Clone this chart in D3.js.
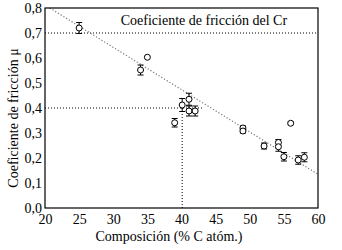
<!DOCTYPE html>
<html>
<head>
<meta charset="utf-8">
<script src="https://cdn.jsdelivr.net/npm/d3@7"></script>
<style>
  body { margin: 0; background: #fff; }
</style>
</head>
<body>
<div id="chart"></div>
<script>
// Data
const composition = [25, 34, 35, 39, 40.1, 41.1, 41.1, 42, 49, 49, 52.1, 54.2, 54.2, 55, 56, 57.1, 58];
const mu = [0.72, 0.552, 0.603, 0.341, 0.412, 0.435, 0.388, 0.388, 0.32, 0.308, 0.248, 0.262, 0.245, 0.205, 0.339, 0.192, 0.203];
const muErr = [0.022, 0.02, 0, 0.017, 0.026, 0.024, 0.02, 0.02, 0.008, 0.008, 0.012, 0.012, 0.018, 0.017, 0.005, 0.017, 0.018];

const trendX = [20.7, 60];
const trendY = [0.8, 0.135];

const crMu = 0.7;
const targetMu = 0.4;
const targetComp = 40.1;

const xTicks = [20, 25, 30, 35, 40, 45, 50, 55, 60];
const yTicks = [0, 0.1, 0.2, 0.3, 0.4, 0.5, 0.6, 0.7, 0.8];

const serif = "'Liberation Serif', 'Times New Roman', 'DejaVu Serif', serif";

const config = {
  width: 342, height: 250,
  margin: { top: 8, right: 24, bottom: 42, left: 45 }
};

const width = config.width - config.margin.left - config.margin.right;
const height = config.height - config.margin.top - config.margin.bottom;

const svg = d3.select('#chart').append('svg')
  .attr('width', config.width)
  .attr('height', config.height)
  .style('font-family', serif);

const chart = svg.append('g')
  .attr('transform', `translate(${config.margin.left},${config.margin.top})`);

const xScale = d3.scaleLinear().domain([20, 60]).range([0, width]);
const yScale = d3.scaleLinear().domain([0, 0.8]).range([height, 0]);

const fmt = d3.format('.1f');

// Axes (no tick marks, only labels)
const xAxis = d3.axisBottom(xScale).tickValues(xTicks).tickSize(0).tickPadding(6);
const yAxis = d3.axisLeft(yScale).tickValues(yTicks).tickSize(0).tickPadding(3)
  .tickFormat(d => fmt(d).replace('.', ','));

const xAxisG = chart.append('g')
  .attr('transform', `translate(0,${height})`)
  .call(xAxis);
const yAxisG = chart.append('g').call(yAxis);

[xAxisG, yAxisG].forEach(g => {
  g.attr('font-family', null).attr('font-size', null);
  g.select('.domain').remove();
  g.selectAll('text')
    .style('font-family', serif)
    .attr('font-size', 14)
    .attr('fill', '#000');
});

// Reference lines
chart.append('line')
  .attr('x1', 0).attr('x2', width)
  .attr('y1', yScale(crMu)).attr('y2', yScale(crMu))
  .attr('stroke', '#000').attr('stroke-dasharray', '1,2');

chart.append('line')
  .attr('x1', 0).attr('x2', xScale(43))
  .attr('y1', yScale(targetMu)).attr('y2', yScale(targetMu))
  .attr('stroke', '#000').attr('stroke-dasharray', '1,2');

chart.append('line')
  .attr('x1', xScale(targetComp)).attr('x2', xScale(targetComp))
  .attr('y1', yScale(targetMu)).attr('y2', yScale(0))
  .attr('stroke', '#000').attr('stroke-dasharray', '1,2');

// Trend line
chart.append('line')
  .attr('x1', xScale(trendX[0])).attr('y1', yScale(trendY[0]))
  .attr('x2', xScale(trendX[1])).attr('y2', yScale(trendY[1]))
  .attr('stroke', '#777').attr('stroke-width', 1.2).attr('stroke-dasharray', '1.2,2');

chart.append('text')
  .attr('x', xScale(31.1))
  .attr('y', yScale(crMu) - 8)
  .attr('font-size', 14)
  .text('Coeficiente de fricción del Cr');

// Error bars and points
const points = composition.map((c, i) => ({ c, m: mu[i], e: muErr[i] }));

const errG = chart.selectAll('.err')
  .data(points.filter(d => d.e > 0))
  .join('g')
  .attr('class', 'err')
  .attr('stroke', '#000')
  .attr('stroke-width', 1);

errG.append('line')
  .attr('x1', d => xScale(d.c)).attr('x2', d => xScale(d.c))
  .attr('y1', d => yScale(d.m - d.e)).attr('y2', d => yScale(d.m + d.e));
errG.append('line')
  .attr('x1', d => xScale(d.c) - 3).attr('x2', d => xScale(d.c) + 3)
  .attr('y1', d => yScale(d.m + d.e)).attr('y2', d => yScale(d.m + d.e));
errG.append('line')
  .attr('x1', d => xScale(d.c) - 3).attr('x2', d => xScale(d.c) + 3)
  .attr('y1', d => yScale(d.m - d.e)).attr('y2', d => yScale(d.m - d.e));

chart.selectAll('.pt')
  .data(points)
  .join('circle')
  .attr('class', 'pt')
  .attr('cx', d => xScale(d.c))
  .attr('cy', d => yScale(d.m))
  .attr('r', 3)
  .attr('fill', '#fff')
  .attr('stroke', '#000')
  .attr('stroke-width', 1);

// Frame
chart.append('rect')
  .attr('width', width).attr('height', height)
  .attr('fill', 'none').attr('stroke', '#000').attr('stroke-width', 1.2);

// Axis titles
svg.append('text')
  .attr('x', 169)
  .attr('y', 241)
  .attr('text-anchor', 'middle')
  .attr('font-size', 14)
  .text('Composición (% C atóm.)');

svg.append('text')
  .attr('transform', `translate(18,${config.margin.top + height / 2 + 10}) rotate(-90)`)
  .attr('text-anchor', 'middle')
  .attr('font-size', 14)
  .text('Coeficiente de fricción μ');
</script>
</body>
</html>
